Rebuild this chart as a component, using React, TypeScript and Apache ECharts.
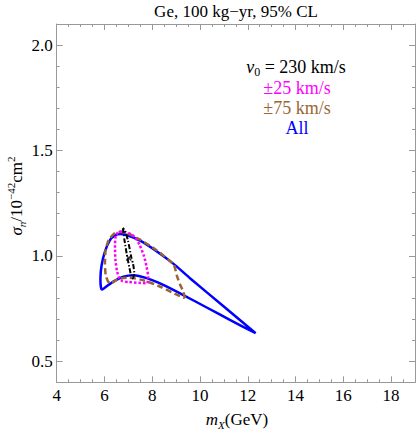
import React, { useEffect, useRef } from "react";
import * as echarts from "echarts";

// ---- data ----
const xMajorTicks = [4, 6, 8, 10, 12, 14, 16, 18];
const yMajorTicks = [0.5, 1.0, 1.5, 2.0];

// "All" contour (blue, solid)
const allContour = [
  [12.33, 0.633], [10.97, 0.762], [9.58, 0.894], [8.88, 0.963], [8.18, 1.022],
  [7.49, 1.072], [6.93, 1.099], [6.65, 1.104], [6.44, 1.097], [6.23, 1.075],
  [6.02, 1.02], [5.88, 0.955], [5.83, 0.89], [5.85, 0.852], [5.9, 0.84],
  [6.05, 0.852], [6.37, 0.878], [6.79, 0.901], [7.21, 0.908], [7.77, 0.894],
  [8.46, 0.862], [9.3, 0.814], [10.28, 0.755], [11.25, 0.696], [12.33, 0.633],
];

// ±75 km/s contour (brown, dashed)
const pm75Contour = [
  [9.37, 0.799], [9.3, 0.83], [9.16, 0.865], [9.02, 0.91], [8.9, 0.958],
  [8.18, 1.027], [7.49, 1.077], [6.95, 1.107], [6.68, 1.114], [6.4, 1.105],
  [6.18, 1.075], [6.05, 1.03], [6.02, 0.96], [6.05, 0.91], [6.14, 0.88],
  [6.25, 0.868], [6.4, 0.878], [6.58, 0.89], [7.0, 0.897], [7.69, 0.882],
  [8.39, 0.851], [9.09, 0.812], [9.37, 0.799],
];

// ±25 km/s contour (magenta, dotted)
const pm25Contour = [
  [7.8, 0.87], [7.83, 0.9], [7.76, 0.95], [7.65, 1.0], [7.47, 1.052],
  [7.3, 1.085], [7.13, 1.102], [6.85, 1.113], [6.6, 1.115], [6.47, 1.095],
  [6.44, 1.04], [6.46, 0.98], [6.52, 0.93], [6.62, 0.893], [6.75, 0.88],
  [7.0, 0.876], [7.42, 0.872], [7.8, 0.87],
];

// v0 = 230 km/s contour (black, dash-dot)
const v230Contour = [
  [6.77, 1.132], [6.83, 1.08], [6.93, 1.01], [7.05, 0.94], [7.12, 0.905],
  [7.18, 0.893], [7.25, 0.915], [7.2, 0.96], [7.12, 0.995], [6.98, 1.075],
  [6.85, 1.12], [6.77, 1.132],
];

const bestFit = [[7.02, 0.99]];

const FONT = "'Liberation Serif', 'Times New Roman', serif";
const FRAME = "#999999";

function minorAxis(position: string, min: number, max: number, interval: number) {
  return {
    type: "value",
    position,
    min,
    max,
    interval,
    axisLine: { show: true, onZero: false, lineStyle: { color: FRAME, width: 1 } },
    axisTick: { show: true, inside: true, length: 3, lineStyle: { color: FRAME } },
    axisLabel: { show: false },
    splitLine: { show: false },
  };
}

function majorAxis(
  position: string,
  min: number,
  max: number,
  ticks: number[],
  showLabels: boolean,
  fmt: (v: number) => string,
  margin: number
) {
  return {
    type: "value",
    position,
    min,
    max,
    axisLine: { show: false, onZero: false },
    axisTick: {
      show: true,
      inside: true,
      length: 6,
      customValues: ticks,
      lineStyle: { color: FRAME },
    },
    axisLabel: {
      show: showLabels,
      customValues: ticks,
      formatter: fmt,
      fontFamily: FONT,
      fontSize: 17,
      color: "#000",
      margin,
    },
    splitLine: { show: false },
  };
}

export default function App() {
  const ref = useRef<HTMLDivElement>(null);
  useEffect(() => {
    document.body.style.margin = "0";
    const chart = echarts.init(ref.current!, null, { renderer: "svg" });
    const xFmt = (v: number) => String(v);
    const yFmt = (v: number) => v.toFixed(1);
    const line = (data: number[][], color: string, width: number, type: any, z: number) => ({
      type: "line",
      data,
      xAxisIndex: 0,
      yAxisIndex: 0,
      showSymbol: false,
      symbol: "none",
      smooth: 0.2,
      z,
      lineStyle: { color, width, type },
      emphasis: { disabled: true },
    });
    const option: any = {
      animation: false,
      grid: {
        left: 56.7,
        right: 1,
        top: 24,
        bottom: 47.7,
        containLabel: false,
        outerBoundsMode: "none",
      },
      xAxis: [
        minorAxis("bottom", 4, 19, 0.5),
        majorAxis("bottom", 4, 19, xMajorTicks, true, xFmt, 5),
        minorAxis("top", 4, 19, 0.5),
        majorAxis("top", 4, 19, xMajorTicks, false, xFmt, 5),
      ],
      yAxis: [
        minorAxis("left", 0.4, 2.1, 0.1),
        majorAxis("left", 0.4, 2.1, yMajorTicks, true, yFmt, 4),
        minorAxis("right", 0.4, 2.1, 0.1),
        majorAxis("right", 0.4, 2.1, yMajorTicks, false, yFmt, 4),
      ],
      series: [
        line(allContour, "#0000ff", 2.5, "solid", 2),
        line(pm75Contour, "#996633", 2.5, [6, 3.5], 3),
        line(pm25Contour, "#ff00ff", 2.5, [2.5, 2], 4),
        line(v230Contour, "#000000", 2, [5, 2, 1.2, 2], 5),
        {
          type: "scatter",
          data: bestFit,
          symbol: "path://M0,0L10,10M10,0L0,10",
          symbolSize: 5,
          itemStyle: { color: "none", borderColor: "#000", borderWidth: 1.5 },
          z: 6,
        },
      ],
      graphic: [
        {
          type: "text",
          x: 236,
          y: 11,
          style: {
            text: "Ge, 100 kg\u2212yr, 95% CL",
            fontFamily: FONT,
            fontSize: 17,
            fill: "#000",
            align: "center",
            verticalAlign: "middle",
          },
        },
        {
          type: "text",
          x: 296,
          y: 67,
          style: {
            text: "{i|v}{sub|0}{n| = 230 km/s}",
            align: "center",
            verticalAlign: "middle",
            rich: {
              i: { fontFamily: FONT, fontSize: 18, fontStyle: "italic", fill: "#000", lineHeight: 22, verticalAlign: "middle" },
              sub: { fontFamily: FONT, fontSize: 12, fill: "#000", lineHeight: 12, verticalAlign: "bottom" },
              n: { fontFamily: FONT, fontSize: 18, fill: "#000", lineHeight: 22, verticalAlign: "middle" },
            },
          },
        },
        {
          type: "text",
          x: 297,
          y: 88,
          style: { text: "\u00b125 km/s", fontFamily: FONT, fontSize: 18, fill: "#ff00ff", align: "center", verticalAlign: "middle" },
        },
        {
          type: "text",
          x: 297,
          y: 108,
          style: { text: "\u00b175 km/s", fontFamily: FONT, fontSize: 18, fill: "#996633", align: "center", verticalAlign: "middle" },
        },
        {
          type: "text",
          x: 297,
          y: 128,
          style: { text: "All", fontFamily: FONT, fontSize: 18, fill: "#0000ff", align: "center", verticalAlign: "middle" },
        },
        {
          type: "text",
          x: 237,
          y: 419,
          style: {
            text: "{i|m}{sub|X}{n|(GeV)}",
            align: "center",
            verticalAlign: "middle",
            rich: {
              i: { fontFamily: FONT, fontSize: 17, fontStyle: "italic", fill: "#000", lineHeight: 22, verticalAlign: "middle" },
              sub: { fontFamily: FONT, fontSize: 11, fontStyle: "italic", fill: "#000", lineHeight: 12, verticalAlign: "bottom" },
              n: { fontFamily: FONT, fontSize: 17, fill: "#000", lineHeight: 22, verticalAlign: "middle" },
            },
          },
        },
        {
          type: "text",
          x: 16,
          y: 196,
          rotation: Math.PI / 2,
          style: {
            text: "{i|\u03c3}{sub|n}{n|/10}{sup|\u221242}{n|cm}{sup|2}",
            align: "center",
            verticalAlign: "middle",
            rich: {
              i: { fontFamily: FONT, fontSize: 17, fontStyle: "italic", fill: "#000", lineHeight: 22, verticalAlign: "middle" },
              sub: { fontFamily: FONT, fontSize: 11, fontStyle: "italic", fill: "#000", lineHeight: 12, verticalAlign: "bottom" },
              sup: { fontFamily: FONT, fontSize: 11, fill: "#000", lineHeight: 12, verticalAlign: "top" },
              n: { fontFamily: FONT, fontSize: 17, fill: "#000", lineHeight: 22, verticalAlign: "middle" },
            },
          },
        },
      ],
    };
    chart.setOption(option);
    return () => chart.dispose();
  }, []);
  return <div ref={ref} style={{ width: 416, height: 430 }} />;
}
